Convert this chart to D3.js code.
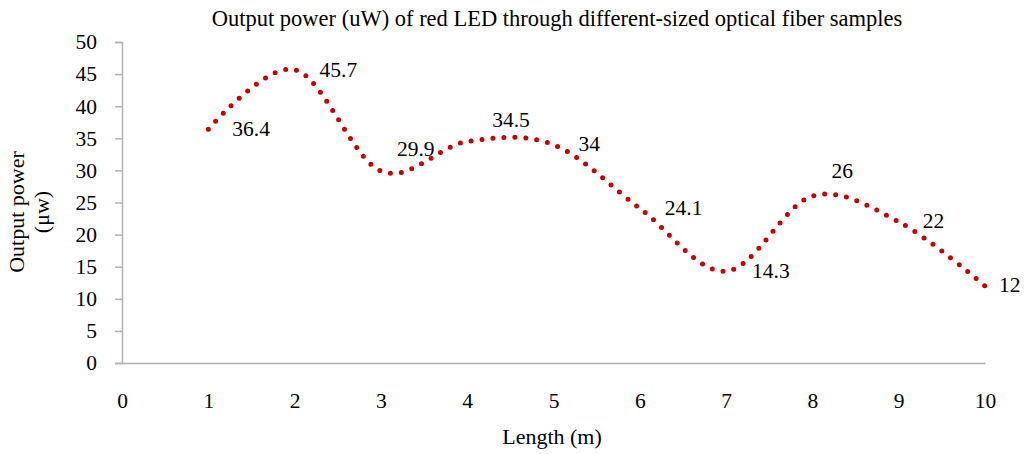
<!DOCTYPE html>
<html>
<head>
<meta charset="utf-8">
<script src="https://cdn.jsdelivr.net/npm/d3@7"></script>
<style>
  html, body { margin: 0; padding: 0; background: #fff; }
  svg { display: block; }
  text { font-family: "Liberation Serif", "Times New Roman", serif; fill: #000; }
</style>
</head>
<body>
<svg id="chart" width="1024" height="454"></svg>
<script>
const lengths = [1, 2, 3, 4, 5, 6, 7, 8, 9, 10];
const power = [36.4, 45.7, 29.9, 34.5, 34, 24.1, 14.3, 26, 22, 12];
const xTicks = [0, 1, 2, 3, 4, 5, 6, 7, 8, 9, 10];
const yTicks = [0, 5, 10, 15, 20, 25, 30, 35, 40, 45, 50];
const titleText = "Output power (uW) of red LED through different-sized optical fiber samples";
const xTitle = "Length (m)";
const yTitleLines = ["Output power", "(μw)"];

// label offsets (px) relative to each point
const labelOffsets = [[24, 2], [25, 2], [16, -20], [25, -19], [25, 1], [25, 2], [26, 2], [19, -23.5], [24, 1], [14, 1.5]];

const svg = d3.select("#chart");
const x = d3.scaleLinear().domain([0, 10]).range([122, 985]);
const y = d3.scaleLinear().domain([0, 50]).range([363, 42]);
const axisColor = "#b3b3b3";
const fs = "21.5px";

// y axis
const yAxis = svg.append("g").attr("transform", "translate(122,0)")
  .call(d3.axisLeft(y).tickValues(yTicks).tickSize(7).tickPadding(18));
yAxis.select(".domain").attr("stroke", axisColor).attr("stroke-width", 1.5);
yAxis.selectAll(".tick line").attr("stroke", axisColor).attr("stroke-width", 1.5);
yAxis.selectAll("text").style("font-size", fs).style("font-family", "Liberation Serif, serif").attr("fill", "#000");

// x axis
const xAxis = svg.append("g").attr("transform", "translate(0,363)")
  .call(d3.axisBottom(x).tickValues(xTicks).tickSize(0).tickSizeOuter(0).tickPadding(30));
xAxis.select(".domain").attr("stroke", axisColor).attr("stroke-width", 1.5);
xAxis.selectAll("text").style("font-size", fs).style("font-family", "Liberation Serif, serif").attr("fill", "#000");

// line
const line = d3.line()
  .x((d, i) => x(lengths[i]))
  .y(d => y(d))
  .curve(d3.curveCatmullRom.alpha(0));
svg.append("path")
  .datum(power)
  .attr("d", line)
  .attr("fill", "none")
  .attr("stroke", "#c80000")
  .attr("stroke-width", 5)
  .attr("stroke-linecap", "round")
  .attr("stroke-dasharray", "0 11");

// data labels
svg.append("g").selectAll("text").data(power).join("text")
  .attr("x", (d, i) => x(lengths[i]) + labelOffsets[i][0])
  .attr("y", (d, i) => y(d) + labelOffsets[i][1])
  .attr("dominant-baseline", "middle")
  .style("font-size", fs)
  .text(d => d);

// title
svg.append("text").attr("x", 557).attr("y", 26).attr("text-anchor", "middle")
  .style("font-size", "22.5px").text(titleText);

// x title
svg.append("text").attr("x", 552).attr("y", 444).attr("text-anchor", "middle")
  .style("font-size", "22px").text(xTitle);

// y title
const yt = svg.append("text").attr("transform", "translate(24,212) rotate(-90)")
  .attr("text-anchor", "middle").style("font-size", "22px");
yt.append("tspan").attr("x", 0).attr("dy", 0).text(yTitleLines[0]);
yt.append("tspan").attr("x", 0).attr("dy", 25).text(yTitleLines[1]);
</script>
</body>
</html>
